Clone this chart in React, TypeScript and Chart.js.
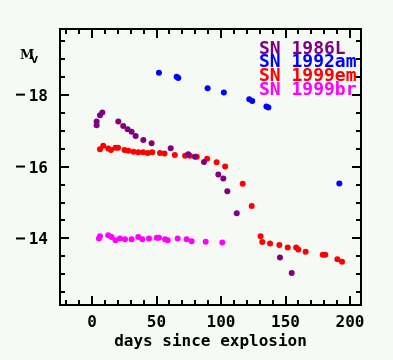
import React, { useEffect, useRef } from 'react';
import { Chart, registerables } from 'chart.js';

Chart.register(...registerables);

const seriesNames = ['SN 1986L', 'SN 1992am', 'SN 1999em', 'SN 1999br'];
const seriesColors = ['#800080', '#0000ff', '#ff0000', '#ff00ff'];

const days1986L = [3.6, 3.6, 6.2, 8.0, 20.4, 24.2, 27.6, 30.7, 33.8, 39.8, 46.2, 61.0, 74.6, 79.8, 86.8, 97.9, 101.8, 104.9, 112.2, 145.7, 154.8];
const mag1986L = [-17.15, -17.25, -17.43, -17.5, -17.25, -17.13, -17.04, -16.97, -16.85, -16.74, -16.65, -16.51, -16.34, -16.27, -16.13, -15.78, -15.67, -15.31, -14.7, -13.47, -13.04];

const days1992am = [51.9, 65.6, 66.9, 89.6, 102.2, 121.9, 124.2, 135.2, 136.7, 191.7];
const mag1992am = [-18.61, -18.5, -18.46, -18.18, -18.06, -17.87, -17.82, -17.67, -17.64, -15.53];

const days1999em = [6.2, 8.7, 12.6, 14.7, 18.2, 20.2, 25.2, 28.2, 32.2, 35.9, 39.7, 43.2, 46.7, 52.7, 56.2, 64.2, 72.2, 75.9, 81.2, 89.2, 96.6, 103.2, 116.8, 123.8, 130.7, 132, 138, 145.2, 151.7, 158.2, 159.9, 165.6, 178.8, 180.8, 190.2, 193.8];
const mag1999em = [-16.48, -16.58, -16.5, -16.46, -16.52, -16.52, -16.46, -16.44, -16.41, -16.4, -16.4, -16.38, -16.4, -16.38, -16.36, -16.32, -16.3, -16.3, -16.27, -16.22, -16.12, -16.0, -15.52, -14.9, -14.06, -13.9, -13.86, -13.82, -13.75, -13.75, -13.69, -13.63, -13.55, -13.55, -13.42, -13.35];

const days1999br = [5.4, 6.2, 12.6, 15.2, 18.2, 21.7, 25.6, 30.7, 35.9, 39, 44.2, 50.2, 51.9, 56.6, 58.7, 66.4, 73.4, 77.2, 88.1, 101];
const mag1999br = [-14.0, -14.06, -14.09, -14.04, -13.95, -14.0, -13.98, -13.98, -14.04, -13.98, -14.0, -14.02, -14.02, -13.98, -13.95, -14.0, -13.98, -13.92, -13.91, -13.89];

const xMajorTicks = [0, 50, 100, 150, 200];
const xMinorTicks = [-20, -10, 0, 10, 20, 30, 40, 50, 60, 70, 80, 90, 100, 110, 120, 130, 140, 150, 160, 170, 180, 190, 200];
const yMajorTicks = [-18, -16, -14];
const yMinorTicks = [-19.5, -19, -18.5, -18, -17.5, -17, -16.5, -16, -15.5, -15, -14.5, -14, -13.5, -13, -12.5];

const xTitle = 'days since explosion';

const pair = (xs: number[], ys: number[]) => xs.map((x, i) => ({ x, y: ys[i] }));

const framePlugin = {
  id: 'framePlugin',
  beforeDraw(chart: any) {
    const ctx = chart.ctx;
    ctx.save();
    ctx.fillStyle = '#f5faf5';
    ctx.fillRect(0, 0, chart.width, chart.height);
    ctx.restore();
  },
  afterDraw(chart: any) {
    const ctx = chart.ctx;
    const { left, right, top, bottom } = chart.chartArea;
    const xs = chart.scales.x;
    const ys = chart.scales.y;
    ctx.save();
    ctx.strokeStyle = '#000';
    ctx.lineWidth = 2;
    ctx.strokeRect(left, top, right - left, bottom - top);
    ctx.beginPath();
    for (const t of xMinorTicks) {
      const p = Math.round(xs.getPixelForValue(t));
      const len = xMajorTicks.includes(t) ? 9 : 5;
      ctx.moveTo(p, bottom);
      ctx.lineTo(p, bottom - len);
      ctx.moveTo(p, top);
      ctx.lineTo(p, top + len);
    }
    for (const t of yMinorTicks) {
      const p = Math.round(ys.getPixelForValue(t));
      const len = yMajorTicks.includes(t) ? 9 : 5;
      ctx.moveTo(left, p);
      ctx.lineTo(left + len, p);
      ctx.moveTo(right, p);
      ctx.lineTo(right - len, p);
    }
    ctx.stroke();

    ctx.fillStyle = '#000';
    ctx.font = "bold 16px 'DejaVu Sans Mono'";
    ctx.textAlign = 'center';
    ctx.textBaseline = 'alphabetic';
    for (const t of xMajorTicks) {
      ctx.fillText(String(t), xs.getPixelForValue(t), 327);
    }
    for (const t of yMajorTicks) {
      const p = ys.getPixelForValue(t);
      ctx.textAlign = 'right';
      ctx.fillText(String(Math.abs(t)), 48, p + 6);
      ctx.fillRect(16, p - 1, 9, 2);
    }
    ctx.textAlign = 'center';
    ctx.fillText(xTitle, (left + right) / 2, 346);

    ctx.textAlign = 'left';
    ctx.font = "bold 13px 'DejaVu Serif'";
    ctx.fillText('M', 20, 59);
    ctx.font = "bold 9px 'DejaVu Sans'";
    ctx.fillText('V', 31, 63);

    ctx.font = "bold 18px 'DejaVu Sans Mono'";
    const baselines = [53.5, 67.3, 81.1, 95];
    seriesNames.forEach((n, i) => {
      ctx.fillStyle = seriesColors[i];
      ctx.fillText(n, 259, baselines[i]);
    });
    ctx.restore();
  },
};

export default function App() {
  const ref = useRef<HTMLCanvasElement>(null);
  useEffect(() => {
    if (!ref.current) return;
    const allDays = [days1986L, days1992am, days1999em, days1999br];
    const allMags = [mag1986L, mag1992am, mag1999em, mag1999br];
    const chart = new Chart(ref.current, {
      type: 'scatter',
      data: {
        datasets: seriesNames.map((n, i) => ({
          label: n,
          data: pair(allDays[i], allMags[i]),
          backgroundColor: seriesColors[i],
          borderColor: seriesColors[i],
          borderWidth: 0,
          pointRadius: 3,
          showLine: false,
        })),
      },
      options: {
        animation: false,
        responsive: false,
        devicePixelRatio: 1,
        layout: { padding: { left: 60, top: 29, right: 32, bottom: 55 } },
        scales: {
          x: { type: 'linear', display: false, min: -24.8, max: 208.5 },
          y: { type: 'linear', display: false, reverse: true, min: -19.825, max: -12.15 },
        },
        plugins: { legend: { display: false }, tooltip: { enabled: false } },
      },
      plugins: [framePlugin],
    });
    return () => chart.destroy();
  }, []);
  return (
    <div style={{ position: 'absolute', left: 0, top: 0, width: 393, height: 360 }}>
      <canvas ref={ref} width={393} height={360} style={{ display: 'block' }} />
    </div>
  );
}
